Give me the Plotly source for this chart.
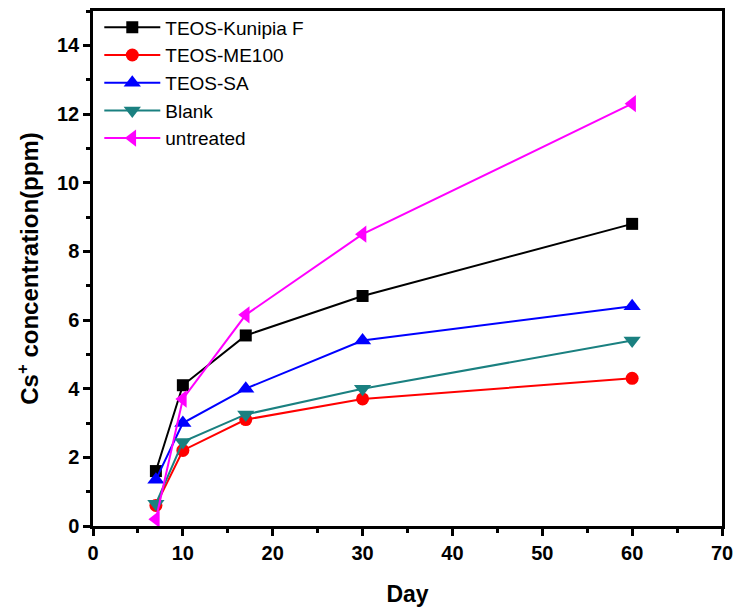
import plotly.graph_objects as go

days = [7, 10, 17, 30, 60]
kunipia = [1.6, 4.1, 5.55, 6.7, 8.8]
me100 = [0.6, 2.2, 3.1, 3.7, 4.3]
sa = [1.35, 3.0, 4.0, 5.4, 6.4]
blank = [0.65, 2.45, 3.25, 4.0, 5.4]
untreated = [0.2, 3.7, 6.15, 8.5, 12.3]

x_ticks = [0, 10, 20, 30, 40, 50, 60, 70]
y_ticks = [0, 2, 4, 6, 8, 10, 12, 14]

series = [
    ("TEOS-Kunipia F", kunipia, "#000000", "square", 12),
    ("TEOS-ME100", me100, "#ff0000", "circle", 13),
    ("TEOS-SA", sa, "#0000ff", "triangle-up", 15),
    ("Blank", blank, "#1a8080", "triangle-down", 15),
    ("untreated", untreated, "#ff00ff", "triangle-left", 15),
]

fig = go.Figure()
for name, vals, col, sym, sz in series:
    fig.add_trace(go.Scatter(
        x=days, y=vals, name=name, mode="lines+markers",
        line=dict(color=col, width=2),
        marker=dict(symbol=sym, size=sz, color=col),
    ))

font_family = "Arial, Liberation Sans, sans-serif"
axis_common = dict(
    showline=True, linecolor="black", linewidth=2.5, mirror=True,
    ticks="outside", ticklen=7, tickwidth=2.5, tickcolor="black",
    showgrid=False, zeroline=False,
    tickfont=dict(family=font_family, size=20, color="black", weight="bold"),
)

fig.update_layout(
    width=741, height=612,
    margin=dict(l=93, r=14, t=8, b=85),
    plot_bgcolor="white", paper_bgcolor="white",
    xaxis=dict(range=[0, 70], tickvals=x_ticks, ticktext=[f"<b>{v}</b>" for v in x_ticks],
               minor=dict(dtick=5, ticks="outside", ticklen=4, tickwidth=2.5, tickcolor="black"),
               title=dict(text="<b>Day</b>", font=dict(family=font_family, size=23, color="black"), standoff=24),
               **axis_common),
    yaxis=dict(range=[0, 15], tickvals=y_ticks, ticktext=[f"<b>{v}</b>" for v in y_ticks],
               minor=dict(dtick=1, ticks="outside", ticklen=4, tickwidth=2.5, tickcolor="black"),
               title=dict(text="<b>Cs<sup>+</sup> concentration(ppm)</b>", font=dict(family=font_family, size=24, color="black"), standoff=12),
               **axis_common),
    legend=dict(x=0.01, y=1.005, xanchor="left", yanchor="top",
                bgcolor="rgba(0,0,0,0)", itemwidth=56, tracegroupgap=0,
                font=dict(family=font_family, size=19, color="black")),
)

fig.write_html("out.html")
